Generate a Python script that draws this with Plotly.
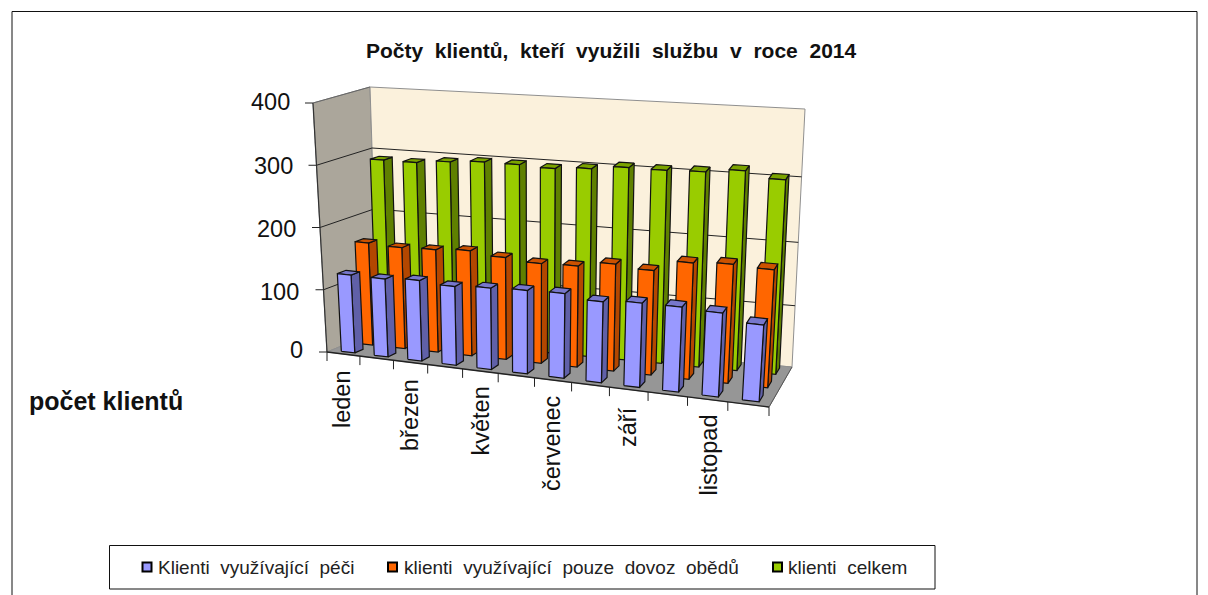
import plotly.graph_objects as go

# ---- data ----
months = ["leden", "únor", "březen", "duben", "květen", "červen", "červenec", "srpen", "září", "říjen", "listopad", "prosinec"]
pece = [125, 125, 129, 126, 130, 133, 135, 129, 134, 135, 133, 122]
obedy = [165, 163, 165, 169, 164, 160, 162, 171, 167, 185, 189, 187]
celkem = [289, 289, 294, 298, 298, 296, 300, 306, 306, 308, 314, 305]
value_ticks = [0, 100, 200, 300, 400]
shown_months = ["leden", "březen", "květen", "červenec", "září", "listopad"]
series_names = ["Klienti  využívající  péči", "klienti  využívající  pouze  dovoz  obědů", "klienti  celkem"]
title_text = "Počty  klientů,  kteří  využili  službu  v  roce  2014"
y_title = "počet klientů"

# ---- layout / view of the 3D box: pixel position of its eight corners ----
FLB, FRB, BLB, BRB = (327, 352), (769, 407), (378, 331), (792, 367)
FLT, FRT, BLT, BRT = (313, 103), (786, 142), (370, 87), (805, 109)
VMAX = 400.0
PERSP = 1.13
PERSP_H = 0.07
FONT = "Liberation Sans, Arial, sans-serif"


def lerp(a, b, t):
    return (a[0] + (b[0] - a[0]) * t, a[1] + (b[1] - a[1]) * t)


def proj(u, v, val):
    """u: along the months 0..1, v: depth 0..1, val: value on the 0..400 axis."""
    u = u / (u + (1 - u) * PERSP)
    h = val / VMAX
    h = h / (h + (1 - h) * (1 + PERSP_H * u))
    bottom = lerp(lerp(FLB, FRB, u), lerp(BLB, BRB, u), v)
    top = lerp(lerp(FLT, FRT, u), lerp(BLT, BRT, u), v)
    return lerp(bottom, top, h)


def poly_trace(polys, fill, line="#111111", width=1.2, name=None):
    xs, ys = [], []
    for p in polys:
        xs += [q[0] for q in p] + [p[0][0], None]
        ys += [q[1] for q in p] + [p[0][1], None]
    return go.Scatter(x=xs, y=ys, mode="lines", fill="toself", fillcolor=fill,
                      line=dict(color=line, width=width), hoverinfo="skip",
                      showlegend=False, name=name)


def line_trace(pts, color="#222222", width=1.0):
    return go.Scatter(x=[p[0] for p in pts], y=[p[1] for p in pts], mode="lines",
                      line=dict(color=color, width=width), hoverinfo="skip", showlegend=False)


fig = go.Figure()

# walls and floor
fig.add_trace(poly_trace([[FLB, FLT, BLT, BLB]], "#ABA69B", "#8a8a8a", 1))
fig.add_trace(poly_trace([[BLB, BLT, BRT, BRB]], "#FBF1DC", "#8f8f8f", 1))
fig.add_trace(poly_trace([[FLB, FRB, BRB, BLB]], "#969696", "#8f8f8f", 1))

# gridlines
for t in value_ticks[1:-1]:
    fig.add_trace(line_trace([proj(0, 0, t), proj(0, 1, t), proj(1, 1, t)]))
# axes
fig.add_trace(line_trace([proj(0, 0, 0), proj(0, 0, VMAX)], "#333333", 1.2))
fig.add_trace(line_trace([proj(0, 0, VMAX), proj(0, 1, VMAX)], "#666666", 1))
fig.add_trace(line_trace([proj(0, 0, 0), proj(1, 0, 0)], "#222222", 1.4))
fig.add_trace(line_trace([proj(1, 0, 0), proj(1, 1, 0)], "#555555", 1))
for t in value_ticks:
    p = proj(0, 0, t)
    fig.add_trace(line_trace([(p[0] - 8, p[1]), p], "#222222", 1))
for k in range(len(months) + 1):
    p = proj(k / len(months), 0, 0)
    fig.add_trace(line_trace([p, (p[0], p[1] + 9)], "#222222", 1))

# bars, back row first
styles = [
    (celkem, 0.79, 0.95, "#99CC00", "#5F8000", "#7BA300"),
    (obedy, 0.45, 0.61, "#FF6600", "#B34700", "#CC5200"),
    (pece, 0.09, 0.257, "#9999FF", "#6060A8", "#7777CC"),
]
n = len(months)
for values, v0, v1, cf, cs, ct in styles:
    fronts, sides, tops = [], [], []
    for k, val in enumerate(values):
        u0, u1 = (k + 0.30) / n, (k + 0.71) / n
        a, b = proj(u0, v0, 0), proj(u1, v0, 0)
        c, d = proj(u1, v0, val), proj(u0, v0, val)
        e, f = proj(u1, v1, 0), proj(u1, v1, val)
        g = proj(u0, v1, val)
        fronts.append([a, b, c, d])
        sides.append([b, e, f, c])
        tops.append([d, c, f, g])
    fig.add_trace(poly_trace(sides, cs))
    fig.add_trace(poly_trace(tops, ct))
    fig.add_trace(poly_trace(fronts, cf))

# legend swatches
legend_x = [147, 392.5, 777.5]
legend_colors = ["#9999FF", "#FF6600", "#99CC00"]
fig.add_trace(go.Scatter(x=legend_x, y=[567] * 3, mode="markers", hoverinfo="skip", showlegend=False,
                         marker=dict(symbol="square", size=9, color=legend_colors,
                                     line=dict(color="#000000", width=2))))

ann = []
ann.append(dict(x=610.5, y=50.5, text="<b>%s</b>" % title_text, font=dict(size=21, color="#111111")))
ann.append(dict(x=106, y=401, text="<b>%s</b>" % y_title, font=dict(size=25, color="#111111")))
for t, xpx, ypx in zip(value_ticks, [305, 301, 298, 295, 292], [350, 292, 229, 166, 102]):
    ann.append(dict(x=xpx, y=ypx, text=str(t), xanchor="right", font=dict(size=23.5, color="#111111")))
for name, xpx, ypx in zip(shown_months, [342, 410, 480, 552, 628, 708], [368, 377, 385, 393, 405, 413]):
    ann.append(dict(x=xpx, y=ypx, text=name, textangle=-90, yanchor="top", font=dict(size=23.5, color="#111111")))
for name, xpx in zip(series_names, [156, 402, 786]):
    ann.append(dict(x=xpx, y=567, text=name, xanchor="left", font=dict(size=19, color="#222222")))

for a in ann:
    a.update(xref="x", yref="y", showarrow=False)
    a["font"]["family"] = FONT

shapes = [
    dict(type="rect", xref="x", yref="y", x0=109.5, x1=935, y0=545.5, y1=589, line=dict(color="#111111", width=1), layer="below"),
    dict(type="path", xref="x", yref="y", path="M 12 600 L 12 11.5 L 1197 11.5 L 1197 600", line=dict(color="#111111", width=1), layer="below"),
]

# The page has an 8 px body margin, so the figure covers pixels 8..1208 and 8..595 of the window.
fig.update_layout(
    width=1200, height=587, margin=dict(l=0, r=0, t=0, b=0),
    paper_bgcolor="white", plot_bgcolor="white", showlegend=False,
    xaxis=dict(range=[8, 1208], visible=False, fixedrange=True),
    yaxis=dict(range=[595, 8], visible=False, fixedrange=True),
    annotations=ann, shapes=shapes, font=dict(family=FONT),
)
fig.write_html("out.html", config=dict(displayModeBar=False), default_width="1200px", default_height="587px")
